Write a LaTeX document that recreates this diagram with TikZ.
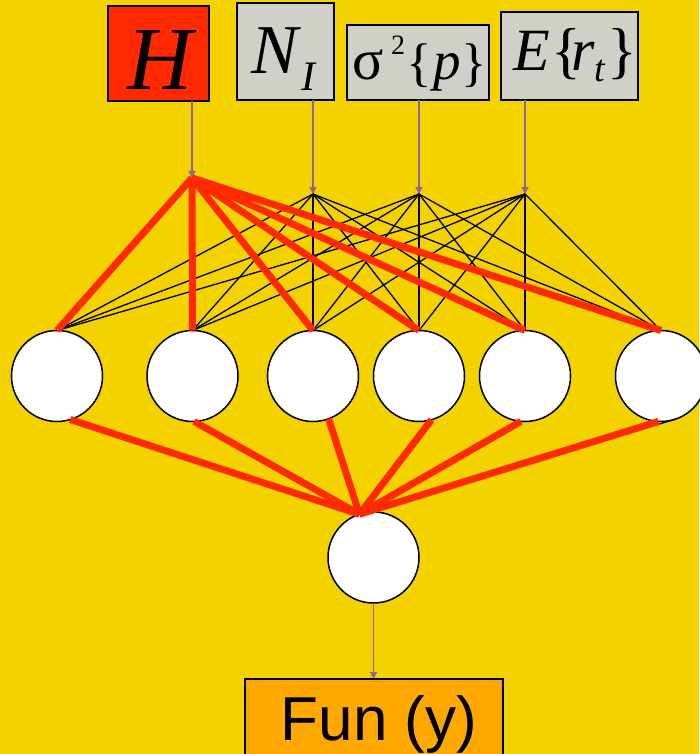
\documentclass[tikz,border=0pt]{standalone}
\usepackage{fontspec}
\setmainfont{Liberation Serif}
\newfontfamily\arialf{Liberation Sans}
\usetikzlibrary{arrows.meta}
\definecolor{bg}{RGB}{243,210,0}
\definecolor{hred}{RGB}{255,42,0}
\definecolor{boxgray}{RGB}{208,208,200}
\definecolor{arrowpurple}{RGB}{140,100,160}
\definecolor{funorange}{RGB}{255,168,0}
\begin{document}
\begin{tikzpicture}[x=1pt,y=-1pt,
  inbox/.style={draw=black,line width=1.8pt,inner sep=0,outer sep=0,anchor=north west},
  neuron/.style={circle,draw=black,line width=1.5pt,fill=white,minimum size=91pt,inner sep=0,outer sep=0},
  feed/.style={arrowpurple,line width=1.3pt,-{Triangle[length=7pt,width=7pt]}},
  redw/.style={hred,line width=7pt},
  thinw/.style={black,line width=1.3pt},
  txt/.style={inner sep=0,outer sep=0,anchor=base west},
]
\fill[bg] (0,0) rectangle (699,754);
\useasboundingbox (0,0) rectangle (699,754);

% input boxes
\node[inbox,fill=hred,minimum width=101pt,minimum height=95pt] (bH) at (108,6) {};
\node[inbox,fill=boxgray,minimum width=97pt,minimum height=97pt] (bN) at (237,3) {};
\node[inbox,fill=boxgray,minimum width=142pt,minimum height=75pt] (bS) at (347,25) {};
\node[inbox,fill=boxgray,minimum width=137pt,minimum height=88pt] (bE) at (501,12) {};

% box texts
\node[inner sep=0,outer sep=0,anchor=base] (tH) at (159.5,90) {\fontsize{90}{90}\selectfont\itshape H};
\node[txt] (tN) at (251,74) {\fontsize{70}{70}\selectfont\itshape N};
\node[txt] (tI) at (301.5,91) {\fontsize{42}{42}\selectfont\itshape I};
\node[txt] (tsig) at (352,80) {\fontsize{58}{58}\selectfont σ};
\node[txt] (t2) at (391,55) {\fontsize{28}{28}\selectfont 2};
\node[txt] (tlb) at (406.5,80.5) {\fontsize{53}{53}\selectfont \{};
\node[txt] (tp) at (433,80) {\fontsize{55}{55}\selectfont\itshape p};
\node[txt] (trb) at (461,80.5) {\fontsize{53}{53}\selectfont \}};
\node[txt] (tE) at (513,71) {\fontsize{60}{60}\selectfont\itshape E};
\node[txt] (tlb2) at (551.5,71.5) {\fontsize{62}{62}\selectfont \{};
\node[txt] (tr) at (571,71) {\fontsize{60}{60}\selectfont\itshape r};
\node[txt] (tt) at (594.5,81.5) {\fontsize{38}{38}\selectfont\itshape t};
\node[txt] (trb2) at (607,71.5) {\fontsize{62}{62}\selectfont \}};

% hub points
\coordinate (hH) at (192,178);
\coordinate (hN) at (313,194);
\coordinate (hS) at (419,194);
\coordinate (hE) at (525,194);

\draw[feed] (bH.south -| hH) -- (hH);
\draw[feed] (bN.south -| hN) -- (hN);
\draw[feed] (bS.south -| hS) -- (hS);
\draw[feed] (bE.south -| hE) -- (hE);

% hidden neurons
\node[neuron] (n1) at (57,376) {};
\node[neuron] (n2) at (192.5,376) {};
\node[neuron] (n3) at (313,376) {};
\node[neuron] (n4) at (419,376) {};
\node[neuron] (n5) at (525,376) {};
\node[neuron] (n6) at (661,376) {};

% output neuron
\node[neuron] (o) at (373.5,557.5) {};

% input -> hidden
\foreach \h in {hN,hS,hE}{
  \foreach \i in {1,...,6}{
    \draw[thinw] (\h) -- (n\i.north);
  }
}
\foreach \i in {1,...,6}{
  \draw[redw] (hH) -- (n\i.north);
}

% hidden -> output
\draw[thinw] (n6.-72) -- (o.108);
\draw[redw] (n1.-73) -- (o.108);
\draw[redw] (n2.-88) -- (o.108);
\draw[redw] (n3.-70) -- (o.108);
\draw[redw] (n4.-74) -- (o.108);
\draw[redw] (n5.-95) -- (o.108);
\draw[redw] (n6.-93) -- (o.108);

% output box
\node[inbox,fill=funorange,line width=1.5pt,minimum width=258pt,minimum height=90pt] (fun) at (245,679) {};
\node[inner sep=0,outer sep=0,anchor=base] (funtxt) at (379,740) {\arialf\fontsize{62}{62}\selectfont Fun (y)};
\draw[feed] (o.south) -- (fun.north -| o.south);
\end{tikzpicture}
\end{document}
